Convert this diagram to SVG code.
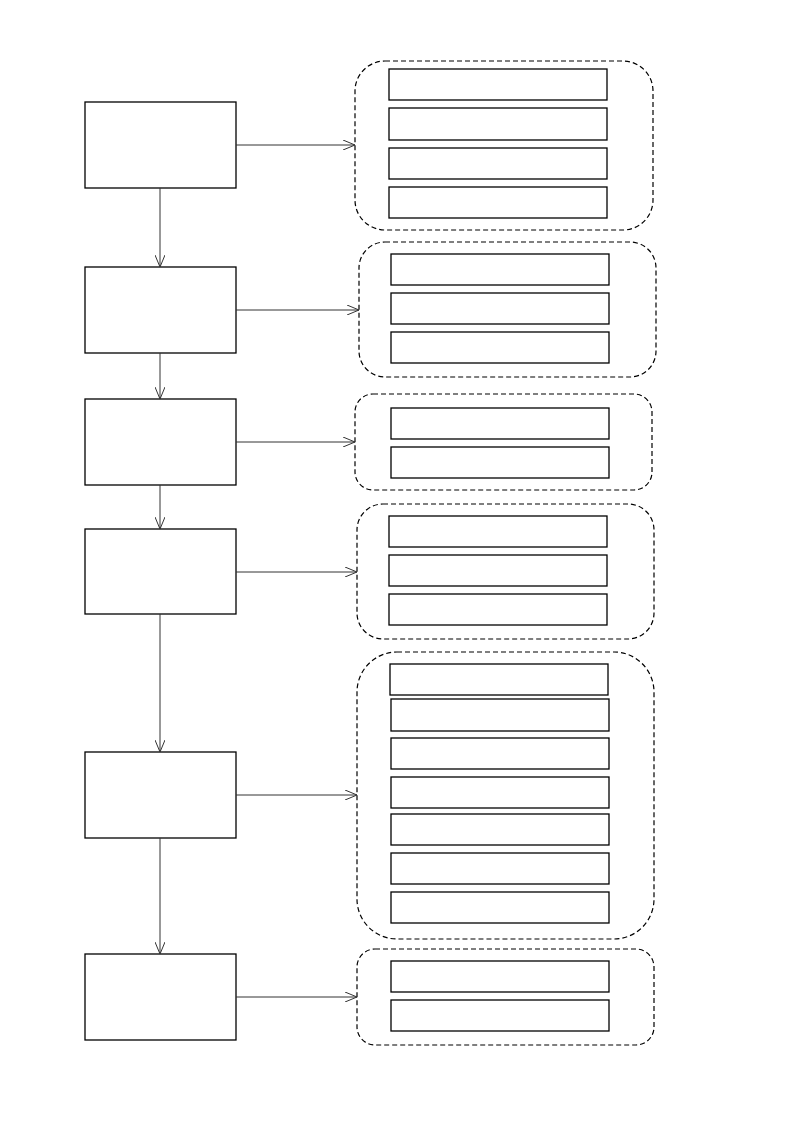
<svg xmlns="http://www.w3.org/2000/svg" width="793" height="1122" viewBox="0 0 793 1122">
<style>
.n{fill:#fff;stroke:#000;stroke-width:1.3}
.g{fill:none;stroke:#000;stroke-width:1.2;stroke-dasharray:5,3}
.c{stroke:#333;stroke-width:1;fill:none;marker-end:url(#a)}
</style>
<defs><marker id="a" markerWidth="14" markerHeight="10" refX="12" refY="5" orient="auto" markerUnits="userSpaceOnUse"><path d="M0,0 L12,5 L0,10" fill="none" stroke="#333" stroke-width="1"/></marker></defs>
<rect width="793" height="1122" fill="#fff"/>
<g id="n1"><rect class="n" x="85" y="102" width="151" height="86"/></g>
<g id="n2"><rect class="n" x="85" y="267" width="151" height="86"/></g>
<g id="n3"><rect class="n" x="85" y="399" width="151" height="86"/></g>
<g id="n4"><rect class="n" x="85" y="529" width="151" height="85"/></g>
<g id="n5"><rect class="n" x="85" y="752" width="151" height="86"/></g>
<g id="n6"><rect class="n" x="85" y="954" width="151" height="86"/></g>
<g id="g1"><rect class="g" x="355" y="61" width="298" height="169" rx="30"/>
<rect class="n" x="389" y="69" width="218" height="31"/><rect class="n" x="389" y="108" width="218" height="32"/><rect class="n" x="389" y="148" width="218" height="31"/><rect class="n" x="389" y="187" width="218" height="31"/></g>
<g id="g2"><rect class="g" x="359" y="242" width="297" height="135" rx="26"/>
<rect class="n" x="391" y="254" width="218" height="31"/><rect class="n" x="391" y="293" width="218" height="31"/><rect class="n" x="391" y="332" width="218" height="31"/></g>
<g id="g3"><rect class="g" x="355" y="394" width="297" height="96" rx="18"/>
<rect class="n" x="391" y="408" width="218" height="31"/><rect class="n" x="391" y="447" width="218" height="31"/></g>
<g id="g4"><rect class="g" x="357" y="504" width="297" height="135" rx="26"/>
<rect class="n" x="389" y="516" width="218" height="31"/><rect class="n" x="389" y="555" width="218" height="31"/><rect class="n" x="389" y="594" width="218" height="31"/></g>
<g id="g5"><rect class="g" x="357" y="652" width="297" height="287" rx="40"/>
<rect class="n" x="390" y="664" width="218" height="31"/><rect class="n" x="391" y="699" width="218" height="32"/><rect class="n" x="391" y="738" width="218" height="31"/><rect class="n" x="391" y="777" width="218" height="31"/><rect class="n" x="391" y="814" width="218" height="31"/><rect class="n" x="391" y="853" width="218" height="31"/><rect class="n" x="391" y="892" width="218" height="31"/></g>
<g id="g6"><rect class="g" x="357" y="949" width="297" height="96" rx="18"/>
<rect class="n" x="391" y="961" width="218" height="31"/><rect class="n" x="391" y="1000" width="218" height="31"/></g>
<g id="connectors">
<path class="c" d="M236,145H355"/><path class="c" d="M236,310H359"/><path class="c" d="M236,442H355"/><path class="c" d="M236,572H357"/><path class="c" d="M236,795H357"/><path class="c" d="M236,997H357"/>
<path class="c" d="M160,188V267"/><path class="c" d="M160,353V399"/><path class="c" d="M160,485V529"/><path class="c" d="M160,614V752"/><path class="c" d="M160,838V954"/>
</g>
</svg>
